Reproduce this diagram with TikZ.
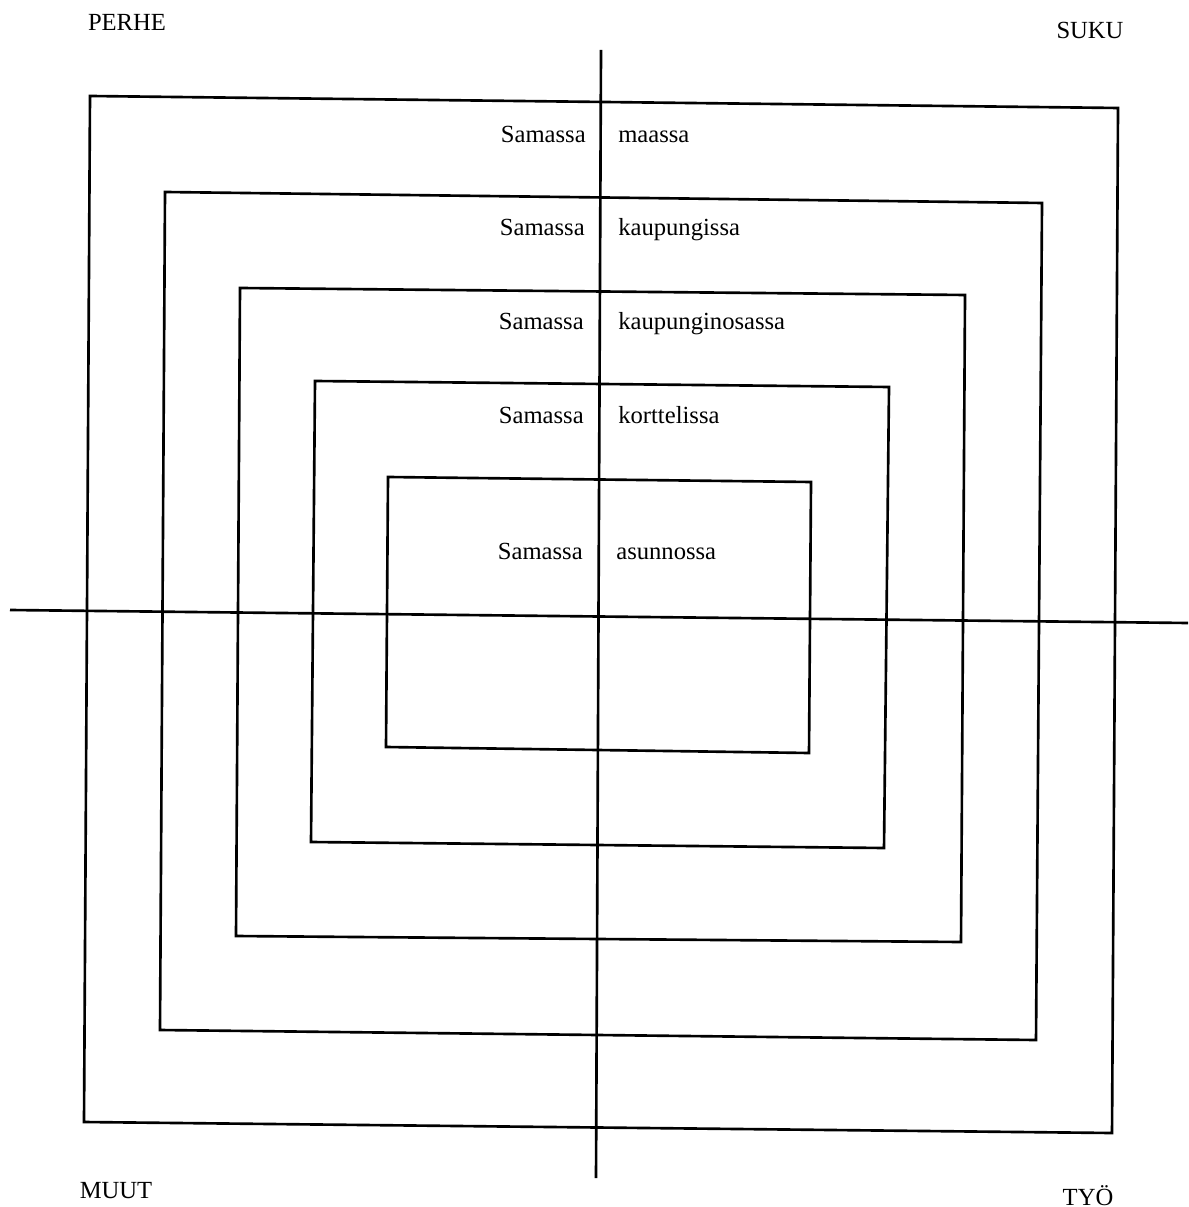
\documentclass[tikz,border=0pt]{standalone}
\usepackage{fontspec}
\setmainfont{Liberation Serif}
\usepackage{tikz}

\begin{document}
\begin{tikzpicture}[x=0.01cm, y=-0.01cm, line width=0.75pt,
    every node/.style={font=\fontsize{7}{8.4}\selectfont, inner sep=0pt}]
    \useasboundingbox (0,0) rectangle (1189,1207);
    % nested boxes (slightly skewed as in the scan)
    \draw (90,96) -- (1118,108) -- (1112,1133) -- (84,1122) -- cycle;
    \draw (165,192) -- (1042,203) -- (1036,1040) -- (160,1030) -- cycle;
    \draw (240,288) -- (965,295) -- (961,942) -- (236,936) -- cycle;
    \draw (315,381) -- (889,387) -- (884,848) -- (311,842) -- cycle;
    \draw (388,477) -- (811,482) -- (809,753) -- (386,747) -- cycle;
    % axes
    \coordinate (top) at (601,50);
    \coordinate (bottom) at (596,1178);
    \coordinate (left) at (10,610);
    \coordinate (right) at (1188,623);
    \draw (top) -- (bottom);
    \draw (left) -- (right);
    % corner labels
    \node[anchor=base] (perhe) at (127,31) {PERHE};
    \node[anchor=base] (suku) at (1090,39) {SUKU};
    \node[anchor=base] (muut) at (116,1198) {MUUT};
    \node[anchor=base] (tyo) at (1088,1205) {TYÖ};
    % ring labels
    \node[anchor=base east] (s1) at (587,143) {Samassa};
    \node[anchor=base west] (l1) at (617,143) {maassa};
    \node[anchor=base east] (s2) at (586,236) {Samassa};
    \node[anchor=base west] (l2) at (617,236) {kaupungissa};
    \node[anchor=base east] (s3) at (585,330) {Samassa};
    \node[anchor=base west] (l3) at (617,330) {kaupunginosassa};
    \node[anchor=base east] (s4) at (585,424) {Samassa};
    \node[anchor=base west] (l4) at (617,424) {korttelissa};
    \node[anchor=base east] (s5) at (584,560) {Samassa};
    \node[anchor=base west] (l5) at (615,560) {asunnossa};
\end{tikzpicture}
\end{document}
